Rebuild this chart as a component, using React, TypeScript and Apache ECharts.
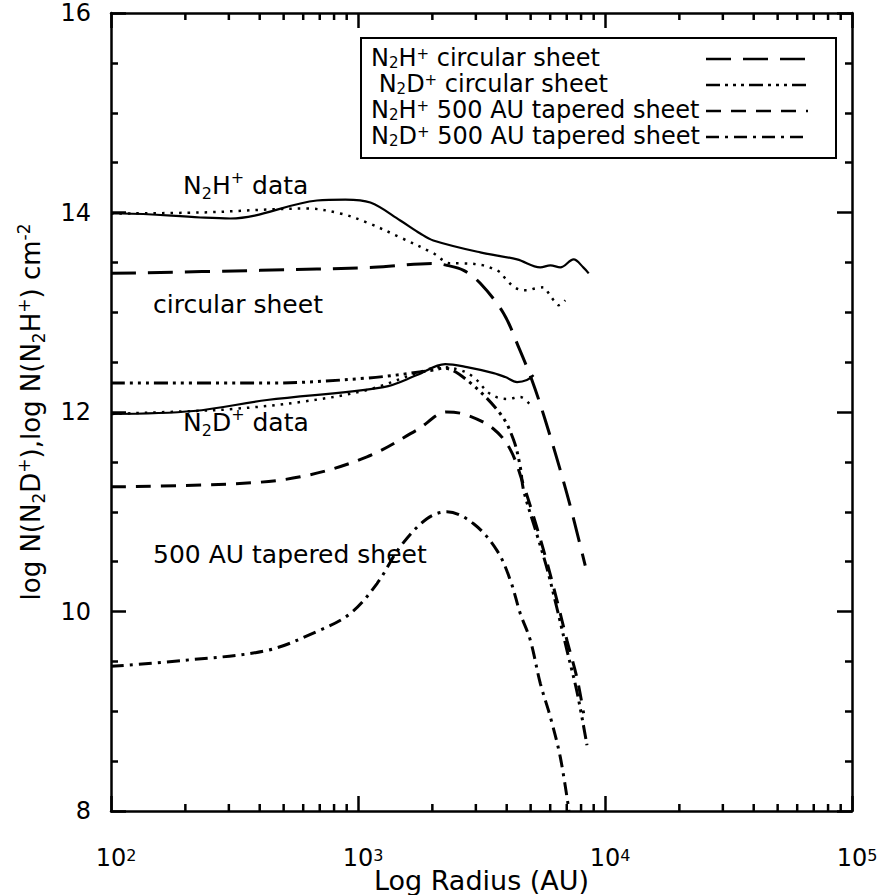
import React, { useEffect, useRef } from "react";
import * as echarts from "echarts";

// Axis ranges
const X_MIN = 100;
const X_MAX = 100000;
const Y_MIN = 8;
const Y_MAX = 16;
const Y_INTERVAL = 2;

// Minor tick positions on the log radius axis (2..9 of each decade)
const X_MINOR_TICKS = [
  200, 300, 400, 500, 600, 700, 800, 900,
  2000, 3000, 4000, 5000, 6000, 7000, 8000, 9000,
  20000, 30000, 40000, 50000, 60000, 70000, 80000, 90000,
];

// N2H+ observed column density (solid) and its dotted companion
const N2H_DATA_R = [100, 111, 230, 304, 682, 889, 1122, 1483, 1786, 2018, 3126, 4406, 5470, 6012, 6592, 7464, 8166, 8590];
const N2H_DATA_V = [13.99, 13.99, 13.95, 13.94, 14.12, 14.13, 14.10, 13.92, 13.79, 13.72, 13.60, 13.53, 13.45, 13.47, 13.45, 13.53, 13.45, 13.39];
const N2H_DOT_R = [100, 230, 622, 847, 1087, 1483, 2023, 2366, 2679, 3228, 3491, 3767, 3945, 4207, 4467, 4831, 5224, 5636, 5916, 6194, 6486, 6902];
const N2H_DOT_V = [13.99, 14.0, 14.04, 13.99, 13.9, 13.75, 13.59, 13.49, 13.49, 13.47, 13.44, 13.4, 13.34, 13.27, 13.23, 13.22, 13.24, 13.25, 13.19, 13.12, 13.07, 13.12];

// N2D+ observed column density (solid) and its dotted companion
const N2D_DATA_R = [100, 216, 428, 1270, 1734, 2254, 2761, 3540, 3948, 4406, 4831, 5140];
const N2D_DATA_V = [11.98, 12.01, 12.12, 12.25, 12.37, 12.48, 12.45, 12.39, 12.35, 12.3, 12.32, 12.37];
const N2D_DOT_R = [100, 216, 313, 584, 1087, 1734, 2153, 2594, 2938, 3436, 4008, 4539, 4989];
const N2D_DOT_V = [11.98, 12.01, 12.03, 12.1, 12.22, 12.39, 12.45, 12.42, 12.35, 12.18, 12.13, 12.15, 12.07];

// Model: circular sheet
const N2H_CIRC_R = [100, 402, 1156, 2023, 2291, 2677, 3126, 3882, 4487, 5058, 5728, 7015, 8318];
const N2H_CIRC_V = [13.39, 13.42, 13.45, 13.49, 13.47, 13.42, 13.29, 12.99, 12.64, 12.32, 11.92, 11.18, 10.46];
const N2D_CIRC_R = [100, 428, 1087, 2023, 2222, 2761, 3775, 4266, 4539, 4677, 5303, 5826, 6393, 7015, 7708, 8453];
const N2D_CIRC_V = [12.29, 12.29, 12.34, 12.42, 12.44, 12.32, 11.98, 11.72, 11.45, 11.22, 10.77, 10.43, 10.03, 9.61, 9.19, 8.66];

// Model: 500 AU tapered sheet
const N2H_TAPER_R = [100, 313, 584, 1087, 1734, 2291, 2761, 3540, 4143, 4677, 5303, 5826, 6393, 7015, 7708, 8192];
const N2H_TAPER_V = [11.25, 11.28, 11.35, 11.55, 11.82, 12.0, 11.97, 11.83, 11.62, 11.27, 10.84, 10.49, 10.11, 9.71, 9.33, 8.98];
const N2D_TAPER_R = [100, 197, 428, 682, 931, 1194, 1483, 1901, 2291, 2938, 3656, 4143, 4539, 4989, 5470, 6012, 6592, 7150];
const N2D_TAPER_V = [9.45, 9.51, 9.61, 9.8, 9.98, 10.28, 10.65, 10.93, 11.0, 10.88, 10.61, 10.31, 9.98, 9.71, 9.28, 8.94, 8.54, 8.0];

const FONT = '"DejaVu Sans", sans-serif';

// Line patterns
const SOLID: any = "solid";
const DOTTED = [2.5, 6];
const LONG_DASH = [25, 12];
const SHORT_DASH = [15, 10];
const DASH_DOT = [13, 6, 3, 6];
const DASH_3DOT = [14, 5, 3, 5, 3, 5, 3, 5];

const LEGEND_LABELS = [
  "{m|N}{sub|2}{m|H}{sup|+}{m| circular sheet}",
  "{m| N}{sub|2}{m|D}{sup|+}{m| circular sheet}",
  "{m|N}{sub|2}{m|H}{sup|+}{m| 500 AU tapered sheet}",
  "{m|N}{sub|2}{m|D}{sup|+}{m| 500 AU tapered sheet}",
];
const LEGEND_DASHES = [LONG_DASH, DASH_3DOT, SHORT_DASH, DASH_DOT];

// Rich text styles for chemical formulas with sub/superscripts
const richFor = (size: number, lineHeight: number, subLH: number, supLH: number) => ({
  m: { fontSize: size, lineHeight, verticalAlign: "middle", color: "#000", fontFamily: FONT },
  sub: { fontSize: Math.round(size * 0.64), lineHeight: subLH, verticalAlign: "bottom", color: "#000", fontFamily: FONT },
  sup: { fontSize: Math.round(size * 0.64), lineHeight: supLH, verticalAlign: "top", color: "#000", fontFamily: FONT },
});

const pairs = (r: number[], v: number[]) => r.map((x, i) => [x, v[i]]);

const curve = (name: string, r: number[], v: number[], type: any, width = 2.5) => ({
  type: "line",
  name,
  data: pairs(r, v),
  showSymbol: false,
  symbol: "none",
  smooth: 0.35,
  silent: true,
  lineStyle: { color: "#000", width, type, cap: "butt" },
  z: 3,
});

export default function App() {
  const ref = useRef<HTMLDivElement>(null);

  useEffect(() => {
    if (!ref.current) return;
    const chart = echarts.init(ref.current, undefined, { renderer: "svg" });

    const axisLine = { show: true, onZero: false, lineStyle: { color: "#000", width: 2.5 } };
    const axisTick = { show: true, inside: true, length: 15, lineStyle: { color: "#000", width: 2.5 } };
    const minorTick = { show: true, splitNumber: 4, length: 7, lineStyle: { color: "#000", width: 2.5 } };

    const xBase = {
      type: "log",
      logBase: 10,
      min: X_MIN,
      max: X_MAX,
      splitNumber: 3,
      axisLine,
      axisTick,
      splitLine: { show: false },
    };
    const yBase = {
      type: "value",
      min: Y_MIN,
      max: Y_MAX,
      interval: Y_INTERVAL,
      axisLine,
      axisTick,
      minorTick,
      splitLine: { show: false },
      minorSplitLine: { show: false },
    };

    const legendRowY = [58, 84, 110, 136];
    const legendRich = richFor(24, 24, 6, 6);
    const noteRich = richFor(25, 32, 12, 10);

    const graphic: any[] = [
      {
        type: "rect",
        shape: { x: 361, y: 38, width: 475, height: 120 },
        style: { fill: "#fff", stroke: "#000", lineWidth: 2 },
        z: 10,
      },
      ...LEGEND_LABELS.map((t, i) => ({
        type: "text",
        x: 371,
        y: legendRowY[i],
        style: { text: t, rich: legendRich, align: "left", verticalAlign: "middle", fill: "#000" },
        z: 11,
      })),
      ...LEGEND_DASHES.map((d, i) => ({
        type: "line",
        shape: { x1: 706, y1: legendRowY[i] + 1, x2: 808, y2: legendRowY[i] + 1 },
        style: { stroke: "#000", lineWidth: 2.5, lineDash: d },
        z: 11,
      })),
      {
        type: "text",
        x: 183,
        y: 185,
        style: { text: "{m|N}{sub|2}{m|H}{sup|+}{m| data}", rich: noteRich, align: "left", verticalAlign: "middle" },
        z: 11,
      },
      {
        type: "text",
        x: 153,
        y: 304,
        style: { text: "{m|circular sheet}", rich: noteRich, align: "left", verticalAlign: "middle" },
        z: 11,
      },
      {
        type: "text",
        x: 183,
        y: 422,
        style: { text: "{m|N}{sub|2}{m|D}{sup|+}{m| data}", rich: noteRich, align: "left", verticalAlign: "middle" },
        z: 11,
      },
      {
        type: "text",
        x: 153,
        y: 554,
        style: { text: "{m|500 AU tapered sheet}", rich: noteRich, align: "left", verticalAlign: "middle" },
        z: 11,
      },
    ];

    chart.setOption({
      animation: false,
      backgroundColor: "#fff",
      textStyle: { fontFamily: FONT, color: "#000" },
      grid: { left: 111, top: 13, width: 741, height: 798, containLabel: false, outerBoundsMode: "none" },
      xAxis: [
        {
          ...xBase,
          position: "bottom",
          axisLabel: {
            margin: 36,
            padding: [0, 0, 0, 10],
            formatter: (v: number) => `{b|10}{e|${Math.round(Math.log10(v))}}`,
            rich: {
              b: { fontSize: 24, lineHeight: 22, verticalAlign: "middle", color: "#000", fontFamily: FONT },
              e: { fontSize: 16, lineHeight: 6, verticalAlign: "top", color: "#000", fontFamily: FONT },
            },
          },
          name: "{m|Log Radius (AU)}",
          nameLocation: "middle",
          nameGap: 55,
          nameMoveOverlap: false,
          nameTextStyle: { rich: richFor(27, 28, 12, 10) },
        },
        {
          ...xBase,
          position: "top",
          axisLabel: { show: false },
        },
      ],
      yAxis: [
        {
          ...yBase,
          position: "left",
          axisLabel: { margin: 20, fontSize: 24, color: "#000", fontFamily: FONT },
          name: "{m|log N(N}{sub|2}{m|D}{sup|+}{m|),log N(N}{sub|2}{m|H}{sup|+}{m|) cm}{sup|-2}",
          nameLocation: "middle",
          nameRotate: 90,
          nameGap: 64,
          nameMoveOverlap: false,
          nameTextStyle: { rich: richFor(26, 32, 12, 10) },
        },
        {
          ...yBase,
          position: "right",
          axisLabel: { show: false },
        },
      ],
      series: [
        curve("N2H+ data", N2H_DATA_R, N2H_DATA_V, SOLID, 2.2),
        curve("N2H+ data (dotted)", N2H_DOT_R, N2H_DOT_V, DOTTED, 2.5),
        curve("N2D+ data", N2D_DATA_R, N2D_DATA_V, SOLID, 2.2),
        curve("N2D+ data (dotted)", N2D_DOT_R, N2D_DOT_V, DOTTED, 2.5),
        curve("N2H+ circular sheet", N2H_CIRC_R, N2H_CIRC_V, LONG_DASH, 3),
        curve("N2D+ circular sheet", N2D_CIRC_R, N2D_CIRC_V, DASH_3DOT, 3),
        curve("N2H+ 500 AU tapered sheet", N2H_TAPER_R, N2H_TAPER_V, SHORT_DASH, 3),
        curve("N2D+ 500 AU tapered sheet", N2D_TAPER_R, N2D_TAPER_V, DASH_DOT, 3),
        {
          type: "custom",
          name: "minor ticks",
          silent: true,
          clip: false,
          data: X_MINOR_TICKS.map((v) => [v, Y_MIN]),
          renderItem: (_params: any, api: any) => {
            const v = api.value(0);
            const b = api.coord([v, Y_MIN]);
            const t = api.coord([v, Y_MAX]);
            const style = { stroke: "#000", lineWidth: 2.5 };
            return {
              type: "group",
              children: [
                { type: "line", shape: { x1: b[0], y1: b[1], x2: b[0], y2: b[1] - 7 }, style },
                { type: "line", shape: { x1: t[0], y1: t[1], x2: t[0], y2: t[1] + 7 }, style },
              ],
            };
          },
        },
      ],
      graphic,
    });

    return () => chart.dispose();
  }, []);

  return (
    <div
      ref={ref}
      style={{ position: "absolute", left: 0, top: 0, width: 878, height: 895, background: "#fff" }}
    />
  );
}
